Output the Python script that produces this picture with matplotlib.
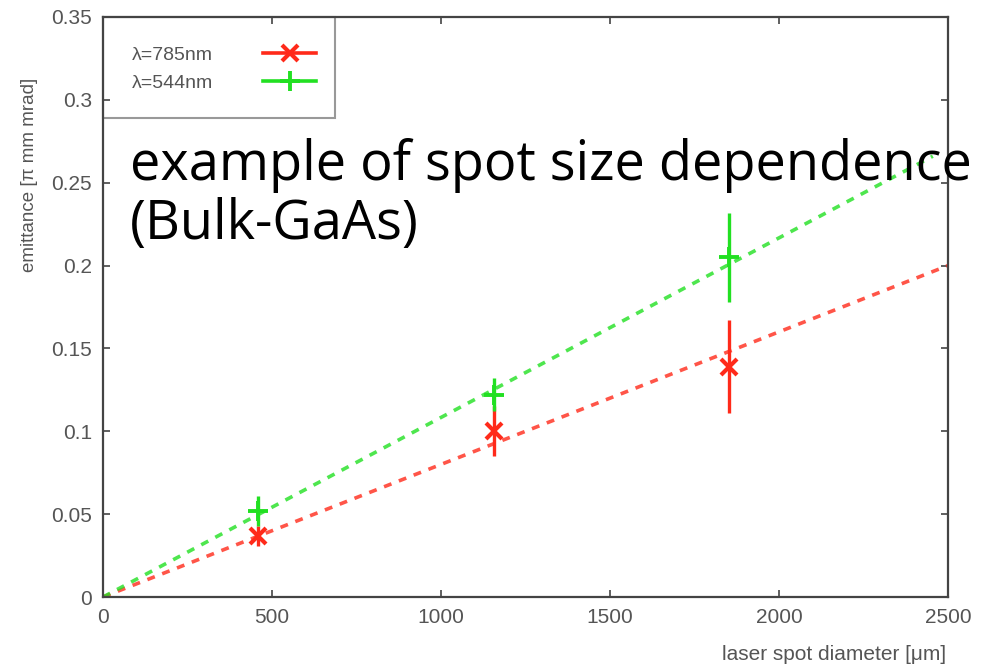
import matplotlib
matplotlib.use("Agg")
import matplotlib.pyplot as plt
from matplotlib.patches import Rectangle
from matplotlib.lines import Line2D

# data
spot = [460, 1157, 1853]
emit_785 = [0.037, 0.100, 0.139]
err_785 = [0.006, 0.015, 0.028]
emit_544 = [0.052, 0.122, 0.205]
err_544 = [0.009, 0.010, 0.027]

# linear fits (end points)
fit_x_785 = [0, 2500]
fit_y_785 = [0.0, 0.200]
fit_x_544 = [0, 2455]
fit_y_544 = [0.0, 0.266]

labels = ["λ=785nm", "λ=544nm"]
xticks = [0, 500, 1000, 1500, 2000, 2500]
yticks = [0, 0.05, 0.1, 0.15, 0.2, 0.25, 0.3, 0.35]

red = "#ff2a1a"
green = "#22e022"
gray = "#555555"

plt.rcParams['font.family'] = ['Liberation Sans', 'DejaVu Sans']

fig = plt.figure(figsize=(9.83, 6.66), dpi=100)
ax = fig.add_axes([0.1048, 0.1036, 0.8596, 0.8709])

ax.plot(fit_x_785, fit_y_785, ls=(0, (2.2, 2.2)), color=red, lw=2.6, alpha=0.8)
ax.plot(fit_x_544, fit_y_544, ls=(0, (2.2, 2.2)), color=green, lw=2.6, alpha=0.8)

ax.errorbar(spot, emit_785, yerr=err_785, fmt='x', color=red, ms=11, mew=3,
            elinewidth=2.4, capsize=0)
ax.errorbar(spot, emit_544, yerr=err_544, fmt='+', color=green, ms=15, mew=2.8,
            elinewidth=2.4, capsize=0)

ax.set_xlim(0, 2500)
ax.set_ylim(0, 0.35)
ax.set_xticks(xticks)
ax.set_yticks(yticks)
ax.set_xticklabels([str(v) for v in xticks])
ax.set_yticklabels(["0", "0.05", "0.1", "0.15", "0.2", "0.25", "0.3", "0.35"])
ax.tick_params(direction='in', top=True, right=True, length=5, width=1.2,
               color='#444444', labelsize=15, labelcolor=gray, pad=8)
for s in ax.spines.values():
    s.set_color('#444444')
    s.set_linewidth(1.6)

# legend box
ax.add_patch(Rectangle((0, 0.8255), 0.274, 0.1745, transform=ax.transAxes,
                       fill=False, edgecolor='#999999', lw=1.5, clip_on=False))
handles = [Line2D([], [], color=red, lw=2.6, marker='x', ms=11, mew=3),
           Line2D([], [], color=green, lw=2.6, marker='+', ms=15, mew=2.8)]
leg = ax.legend(handles, labels, loc='upper left', bbox_to_anchor=(0.013, 0.98),
                frameon=False, markerfirst=False, fontsize=14, handlelength=2.7,
                labelspacing=0.55, handletextpad=2.6)
for t in leg.get_texts():
    t.set_color(gray)

fig.text(30 / 983, 1 - 175 / 666, "emittance [π mm mrad]", rotation=90,
         ha='center', va='center', fontsize=13.5, color=gray)
fig.text(946 / 983, 1 - 655 / 666, "laser spot diameter [μm]",
         ha='right', va='center', fontsize=15, color=gray)

fig.text(130 / 983, 1 - 195 / 666, "example of spot size dependence\n(Bulk-GaAs)",
         ha='left', va='center', fontsize=39, color='black',
         family=['Open Sans', 'DejaVu Sans'], linespacing=1.1)

fig.savefig("out.png", dpi=100)
